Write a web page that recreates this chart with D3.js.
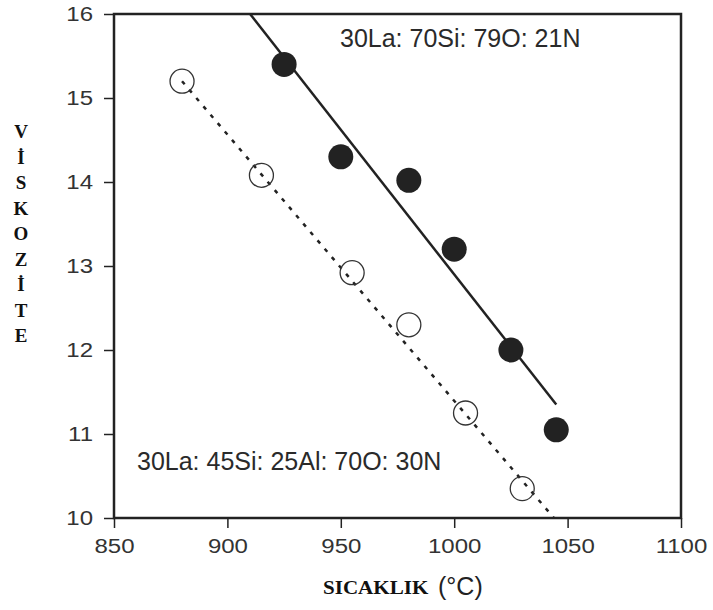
<!DOCTYPE html>
<html><head><meta charset="utf-8">
<script src="https://cdn.jsdelivr.net/npm/d3@7"></script>
<style>body{margin:0;background:#fff}svg{display:block}</style>
</head><body>
<script>
// Data
const filledTemp = [925, 950, 980, 1000, 1025, 1045];
const filledVisc = [15.4, 14.3, 14.02, 13.2, 12.0, 11.05];
const openTemp = [880, 915, 955, 980, 1005, 1030];
const openVisc = [15.2, 14.08, 12.92, 12.3, 11.25, 10.35];
const solidFit = [[910, 16.0], [1045, 11.35]];
const dottedFit = [[880, 15.2], [1044, 10.0]];
const xTicks = [850, 900, 950, 1000, 1050, 1100];
const yTicks = [10, 11, 12, 13, 14, 15, 16];
const label1 = "30La: 70Si: 79O: 21N";
const label2 = "30La: 45Si: 25Al: 70O: 30N";
const yTitle = ["V","İ","S","K","O","Z","İ","T","E"];

const W = 713, H = 610;
const L = 114, R = 681, T = 14, B = 518;
const svg = d3.select("body").append("svg").attr("width", W).attr("height", H);
const x = d3.scaleLinear().domain([850, 1100]).range([L, R]);
const y = d3.scaleLinear().domain([10, 16]).range([B, T]);
const ink = "#222";
const sans = "'Liberation Sans', Arial, sans-serif";
const serif = "'Liberation Serif', 'Times New Roman', serif";

function stretch(sel, k) {
  sel.each(function () {
    const w = this.getComputedTextLength();
    d3.select(this).attr("textLength", w * k).attr("lengthAdjust", "spacingAndGlyphs");
  });
}

// axes
const xa = svg.append("g").attr("transform", `translate(0,${B})`)
  .call(d3.axisBottom(x).tickValues(xTicks).tickFormat(d3.format("d")).tickSize(10).tickPadding(9).tickSizeOuter(0));
const ya = svg.append("g").attr("transform", `translate(${L},0)`)
  .call(d3.axisLeft(y).tickValues(yTicks).tickFormat(d3.format("d")).tickSize(10).tickPadding(11).tickSizeOuter(0));
[xa, ya].forEach(g => {
  g.select(".domain").remove();
  g.selectAll(".tick line").attr("stroke", ink).attr("stroke-width", 1.5);
  g.selectAll(".tick text").attr("fill", "#333")
    .style("font-family", sans).style("font-size", "20px");
});
xa.selectAll(".tick text").attr("dy", "0.78em");
stretch(xa.selectAll(".tick text"), 1.2);
stretch(ya.selectAll(".tick text"), 1.2);

// frame
svg.append("rect").attr("x", L).attr("y", T).attr("width", R - L).attr("height", B - T)
  .attr("fill", "none").attr("stroke", ink).attr("stroke-width", 2.5);

const clip = svg.append("clipPath").attr("id", "c").append("rect")
  .attr("x", L).attr("y", T).attr("width", R - L).attr("height", B - T);
const plot = svg.append("g").attr("clip-path", "url(#c)");
const line = d3.line().x(d => x(d[0])).y(d => y(d[1]));

plot.append("path").attr("d", line(solidFit)).attr("stroke", ink).attr("stroke-width", 2.5).attr("fill", "none");
plot.append("path").attr("d", line(dottedFit)).attr("stroke", ink).attr("stroke-width", 2.5)
  .attr("stroke-dasharray", "4,7").attr("fill", "none");

plot.selectAll("circle.f").data(filledTemp).join("circle").attr("class", "f")
  .attr("cx", d => x(d)).attr("cy", (d, i) => y(filledVisc[i])).attr("r", 12.5).attr("fill", ink);
plot.selectAll("circle.o").data(openTemp).join("circle").attr("class", "o")
  .attr("cx", d => x(d)).attr("cy", (d, i) => y(openVisc[i])).attr("r", 12)
  .attr("fill", "none").attr("stroke", "#333").attr("stroke-width", 1.3);

svg.append("text").attr("x", 340).attr("y", 47).text(label1)
  .style("font-family", sans).style("font-size", "25px").attr("fill", "#2a2a2a");
svg.append("text").attr("x", 137).attr("y", 470).text(label2)
  .style("font-family", sans).style("font-size", "25px").attr("fill", "#2a2a2a");

// y title stacked
svg.append("g").selectAll("text").data(yTitle).join("text")
  .attr("x", 21).attr("y", (d, i) => 138 + i * 25.5).attr("text-anchor", "middle")
  .style("font-family", serif).style("font-weight", "bold")
  .style("font-size", "19px").attr("fill", "#111").text(d => d);

// x title
const t1 = svg.append("text").attr("x", 323).attr("y", 594).text("SICAKLIK")
  .style("font-family", serif).style("font-weight", "bold")
  .style("font-size", "19.5px").attr("fill", "#111");
stretch(t1, 1.08);
svg.append("text").attr("x", 438).attr("y", 595).text("(°C)")
  .style("font-family", sans).style("font-size", "25px").attr("fill", "#222");
</script>
</body></html>
